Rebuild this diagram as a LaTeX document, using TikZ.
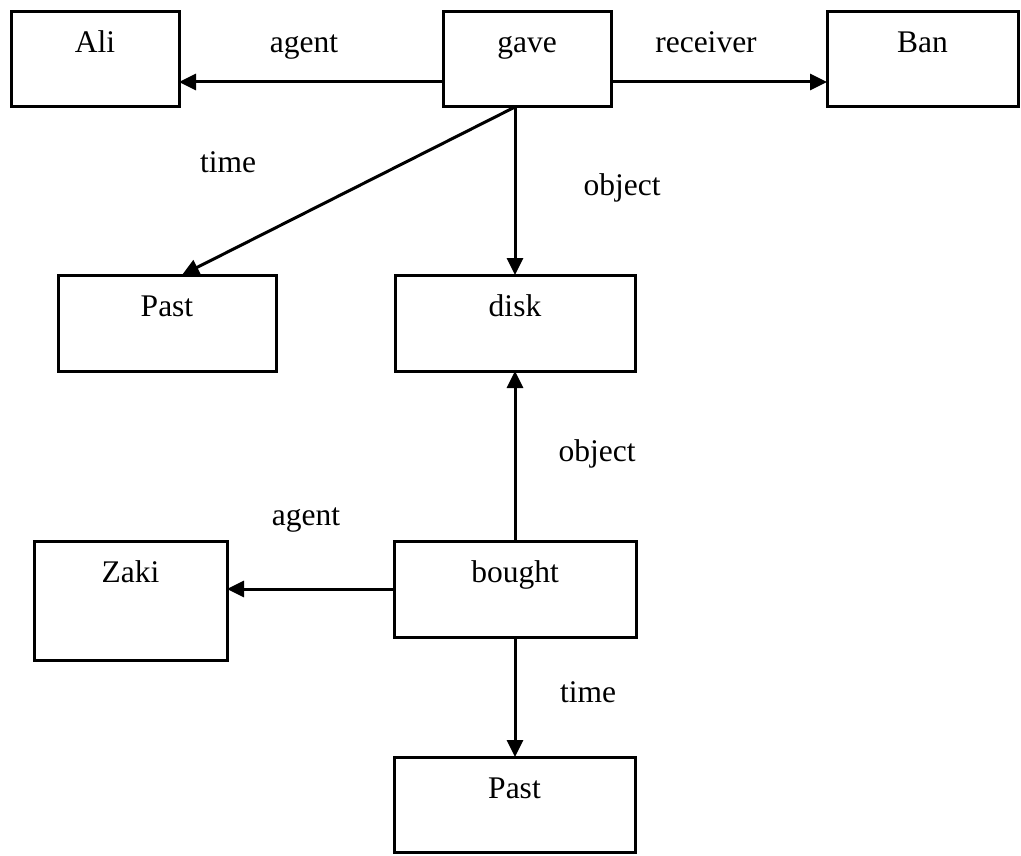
\documentclass[tikz,border=0pt]{standalone}
\usepackage{fontspec}
\setmainfont{Liberation Serif}
\usetikzlibrary{arrows.meta}
\begin{document}
\begin{tikzpicture}[x=1pt,y=-1pt,
  txt/.style={font=\fontsize{31.5}{38}\selectfont},
  box/.style={txt, draw, line width=3pt, rectangle, anchor=north west, outer sep=0pt,
    inner xsep=0pt, inner ysep=0pt, text height=41pt},
  lbl/.style={txt, anchor=base, inner sep=0pt},
  conn/.style={line width=3pt, -{Triangle[length=17pt,width=16pt]}}]
\useasboundingbox (0,0) rectangle (1021,856);
% boxes
\node[box, minimum width=168pt, text depth=54pt] (ali) at (11,12) {Ali};
\node[box, minimum width=168pt, text depth=54pt] (gave) at (443,12) {gave};
\node[box, minimum width=191pt, text depth=54pt] (ban) at (827,12) {Ban};
\node[box, minimum width=218pt, text depth=55pt] (past1) at (58,275) {Past};
\node[box, minimum width=240pt, text depth=55pt] (disk) at (395,275) {disk};
\node[box, minimum width=193pt, text depth=78pt] (zaki) at (34,541) {Zaki};
\node[box, minimum width=242pt, text depth=55pt] (bought) at (394,541) {bought};
\node[box, minimum width=241pt, text depth=54pt] (past2) at (394,757) {Past};
% connectors
\coordinate (g) at (gave.south -| disk.north);
\draw[conn] ([yshift=-22.5pt]gave.west) -- ([yshift=-22.5pt]ali.east);
\draw[conn] ([yshift=-22.5pt]gave.east) -- ([yshift=-22.5pt]ban.west);
\draw[conn] (g) -- ([xshift=15pt]past1.north);
\draw[conn] (g) -- (disk.north);
\draw[conn] (bought.north) -- (disk.south);
\draw[conn] (bought.west) -- (bought.west -| zaki.east);
\draw[conn] (bought.south) -- (bought.south |- past2.north);
% labels
\node[lbl] (l1) at (304,53) {agent};
\node[lbl] (l2) at (706,53) {receiver};
\node[lbl] (l3) at (228,173) {time};
\node[lbl] (l4) at (622,196) {object};
\node[lbl] (l5) at (597,461) {object};
\node[lbl] (l6) at (306,525) {agent};
\node[lbl] (l7) at (588,702) {time};
\end{tikzpicture}
\end{document}
